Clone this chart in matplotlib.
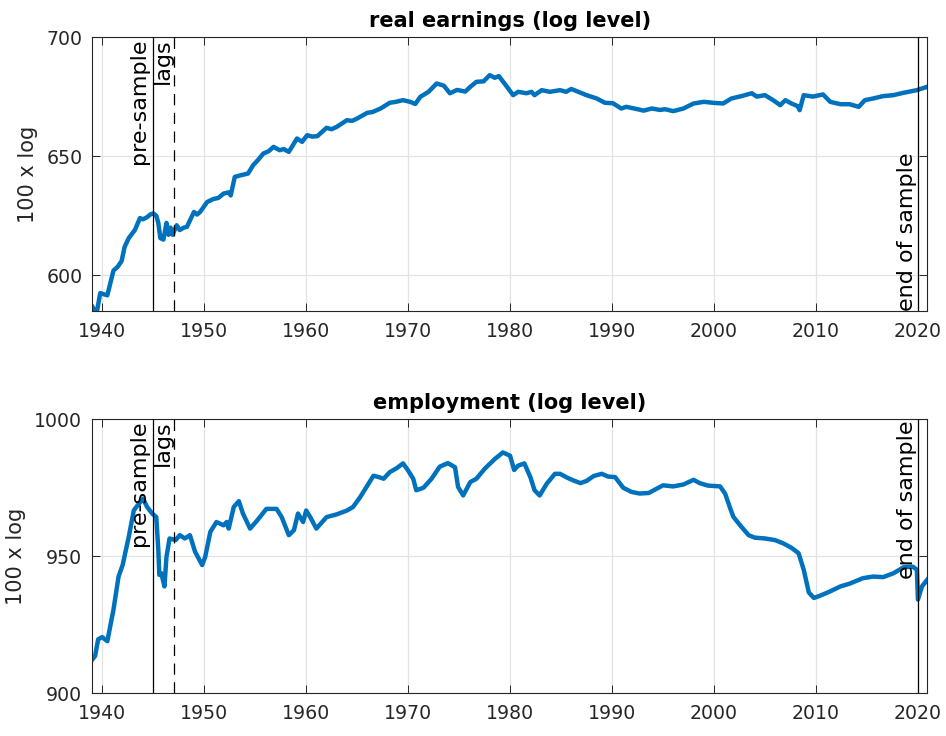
import matplotlib
matplotlib.use("Agg")
import matplotlib.pyplot as plt

# ---- data ----
earn_years = [1939.0, 1939.3, 1939.5, 1939.8, 1940.5, 1941.1, 1941.5, 1941.9, 1942.2, 1942.6,
              1943.2, 1943.7, 1944.0, 1944.4, 1944.7, 1945.0, 1945.3, 1945.5, 1945.7, 1946.0,
              1946.3, 1946.5, 1946.7, 1946.9, 1947.3, 1947.6, 1948.0, 1948.3, 1949.0, 1949.3,
              1949.6, 1950.3, 1950.9, 1951.4, 1951.9, 1952.4, 1952.6, 1953.0, 1953.6, 1954.3,
              1954.8, 1955.3, 1955.8, 1956.3, 1956.8, 1957.4, 1957.8, 1958.3, 1959.1, 1959.6,
              1960.1, 1960.6, 1961.1, 1962.0, 1962.5, 1963.0, 1964.0, 1964.5, 1965.0, 1966.0,
              1966.5, 1967.3, 1968.2, 1968.8, 1969.5, 1970.2, 1970.7, 1971.2, 1972.0, 1972.8,
              1973.5, 1974.1, 1974.8, 1975.6, 1976.1, 1976.7, 1977.4, 1978.0, 1978.5, 1978.9,
              1979.7, 1980.3, 1980.8, 1981.6, 1982.1, 1982.4, 1983.1, 1983.9, 1984.9, 1985.5,
              1986.0, 1986.7, 1987.5, 1988.5, 1989.3, 1990.1, 1990.9, 1991.4, 1992.4, 1993.1,
              1993.9, 1994.7, 1995.2, 1996.0, 1997.0, 1998.0, 1999.0, 1999.9, 2000.9, 2001.7,
              2002.7, 2003.7, 2004.2, 2005.0, 2005.8, 2006.5, 2007.0, 2007.6, 2008.2, 2008.4,
              2008.8, 2009.7, 2010.7, 2011.4, 2012.4, 2013.3, 2014.2, 2014.8, 2015.6, 2016.6,
              2017.6, 2018.6, 2019.9, 2020.9]
earn_vals = [587.0, 585.0, 585.3, 592.5, 591.6, 602.0, 603.5, 606.0, 612.0, 615.6,
             619.0, 624.0, 623.5, 624.4, 625.5, 626.0, 625.0, 622.0, 615.6, 615.0,
             622.0, 617.0, 620.0, 617.0, 621.0, 619.0, 620.0, 620.3, 626.6, 625.5,
             626.6, 630.8, 632.0, 632.5, 634.3, 634.8, 633.5, 641.3, 642.0, 642.7,
             646.2, 648.5, 651.1, 652.0, 653.9, 652.5, 653.0, 651.8, 657.4, 656.0,
             658.8, 658.2, 658.4, 661.9, 661.3, 662.3, 665.1, 664.8, 665.8, 668.2,
             668.5, 670.0, 672.4, 672.8, 673.5, 672.8, 671.9, 674.9, 677.0, 680.5,
             679.6, 676.4, 677.8, 677.1, 679.1, 681.2, 681.4, 684.0, 682.9, 683.6,
             679.1, 675.6, 677.0, 676.4, 677.0, 675.6, 677.7, 677.0, 677.7, 677.0,
             678.2, 677.0, 675.6, 674.2, 672.4, 672.2, 670.0, 670.7, 669.8, 669.1,
             670.0, 669.4, 669.7, 668.9, 670.0, 672.1, 672.8, 672.4, 672.1, 674.2,
             675.2, 676.4, 675.0, 675.6, 673.5, 671.4, 673.5, 672.1, 671.0, 669.3,
             675.6, 675.0, 675.9, 672.8, 671.8, 671.8, 670.7, 673.5, 674.2, 675.2,
             675.6, 676.6, 677.7, 679.1]

emp_years = [1939.0, 1939.3, 1939.6, 1940.0, 1940.5, 1941.1, 1941.6, 1942.0, 1942.6, 1943.1,
             1943.6, 1944.0, 1944.4, 1944.9, 1945.3, 1945.5, 1945.6, 1945.8, 1946.1, 1946.3,
             1946.6, 1947.2, 1947.6, 1948.1, 1948.6, 1949.1, 1949.8, 1950.1, 1950.6, 1951.2,
             1951.9, 1952.2, 1952.4, 1952.9, 1953.4, 1953.8, 1954.5, 1955.2, 1956.1, 1957.1,
             1957.6, 1958.3, 1958.8, 1959.2, 1959.7, 1960.0, 1960.4, 1961.0, 1962.0, 1963.0,
             1964.0, 1964.6, 1965.3, 1966.0, 1966.6, 1967.2, 1967.6, 1968.2, 1968.9, 1969.5,
             1970.0, 1970.5, 1970.8, 1971.5, 1972.3, 1973.1, 1973.9, 1974.6, 1974.9, 1975.4,
             1976.1, 1976.7, 1977.5, 1978.5, 1979.3, 1980.0, 1980.4, 1980.8, 1981.4, 1982.0,
             1982.4, 1982.9, 1983.6, 1984.4, 1984.9, 1985.6, 1986.2, 1986.9, 1987.5, 1988.2,
             1989.0, 1989.6, 1990.3, 1991.1, 1991.9, 1992.7, 1993.6, 1994.4, 1995.0, 1996.0,
             1997.0, 1998.0, 1998.6, 1999.4, 2000.6, 2001.1, 2001.6, 2001.9, 2002.7, 2003.4,
             2004.0, 2005.0, 2006.0, 2006.8, 2007.6, 2008.3, 2008.8, 2009.3, 2009.8, 2010.4,
             2011.4, 2012.4, 2013.3, 2014.6, 2015.6, 2016.6, 2017.6, 2018.6, 2019.5, 2019.9,
             2020.0, 2020.4, 2020.9]
emp_vals = [912.1, 913.5, 919.6, 920.4, 918.9, 930.4, 942.5, 946.7, 957.0, 966.7,
            969.1, 970.9, 967.9, 965.5, 964.2, 952.2, 943.1, 943.7, 938.9, 949.7,
            956.4, 955.8, 957.6, 956.4, 957.6, 951.6, 946.7, 949.7, 958.8, 962.4,
            961.2, 962.4, 960.0, 967.9, 970.0, 965.5, 960.0, 963.0, 967.2, 967.2,
            964.2, 957.6, 959.4, 965.5, 962.4, 966.6, 964.2, 960.0, 964.2, 965.2,
            966.6, 967.9, 971.5, 975.7, 979.3, 978.7, 978.2, 980.6, 982.1, 983.8,
            981.2, 978.2, 974.0, 974.9, 978.2, 982.6, 983.9, 982.4, 975.2, 972.1,
            977.0, 978.2, 981.8, 985.4, 987.8, 986.6, 981.4, 983.0, 983.8, 978.7,
            974.0, 972.1, 976.4, 980.0, 980.0, 978.6, 977.6, 976.6, 977.4, 979.2,
            980.0, 979.0, 978.8, 974.9, 973.4, 972.8, 973.0, 974.6, 975.8, 975.4,
            976.1, 977.8, 976.6, 975.7, 975.4, 972.7, 967.3, 964.3, 960.6, 957.6,
            956.7, 956.4, 955.8, 954.6, 953.0, 951.0, 945.0, 936.7, 934.7, 935.5,
            937.1, 938.9, 939.9, 941.9, 942.5, 942.3, 943.7, 945.9, 946.1, 945.0,
            934.1, 938.9, 941.3]

presample_year = 1945
lags_year = 1947
end_year = 2020
x_ticks = [1940, 1950, 1960, 1970, 1980, 1990, 2000, 2010, 2020]

BLUE = "#0072BD"
DARK = "#262626"

plt.rcParams["font.family"] = ["DejaVu Sans"]

fig = plt.figure(figsize=(9.46, 7.36), dpi=100)
ax1 = fig.add_axes([0.0973, 0.5774, 0.8827, 0.3723])
ax2 = fig.add_axes([0.0973, 0.0584, 0.8827, 0.3723])


def style(ax, ylim, yticks, title):
    ax.set_xlim(1939.0, 2020.9)
    ax.set_ylim(*ylim)
    ax.set_xticks(x_ticks)
    ax.set_yticks(yticks)
    ax.grid(True, color="#e3e3e3", linewidth=0.9)
    ax.set_axisbelow(True)
    for s in ax.spines.values():
        s.set_color(DARK)
        s.set_linewidth(0.8)
    ax.tick_params(direction="in", length=6, width=0.7, color=DARK,
                   labelsize=13.6, labelcolor=DARK, top=True, right=True)
    ax.tick_params(axis="x", pad=8)
    ax.tick_params(axis="y", pad=7)
    ax.set_ylabel("100 x log", fontsize=15, color=DARK, labelpad=6)
    ax.set_title(title, fontsize=15, fontweight="bold", pad=7)


def vlines(ax, end_at_bottom):
    ax.axvline(presample_year, color="black", linewidth=0.9, zorder=3)
    ax.axvline(lags_year, color="black", linewidth=0.9, linestyle=(0, (9, 6)), zorder=3)
    ax.axvline(end_year, color="black", linewidth=0.9, zorder=3)
    kw = dict(rotation=90, fontsize=16, color="black", textcoords="offset points",
              xycoords=("data", "axes fraction"), zorder=4)
    ax.annotate("pre-sample", xy=(presample_year, 1.0), xytext=(-3, -1),
                ha="right", va="top", **kw)
    ax.annotate("lags", xy=(lags_year, 1.0), xytext=(-0.5, -1),
                ha="right", va="top", **kw)
    if end_at_bottom:
        ax.annotate("end of sample", xy=(end_year, 0.0), xytext=(-0.5, 0),
                    ha="right", va="bottom", **kw)
    else:
        ax.annotate("end of sample", xy=(end_year, 1.0), xytext=(-0.5, -1),
                    ha="right", va="top", **kw)


ax1.plot(earn_years, earn_vals, color=BLUE, linewidth=3.2, solid_joinstyle="round", zorder=2)
style(ax1, (585, 700), [600, 650, 700], "real earnings (log level)")
vlines(ax1, True)

ax2.plot(emp_years, emp_vals, color=BLUE, linewidth=3.2, solid_joinstyle="round", zorder=2)
style(ax2, (900, 1000), [900, 950, 1000], "employment (log level)")
vlines(ax2, False)

fig.savefig("out.png", dpi=100, facecolor="white")
